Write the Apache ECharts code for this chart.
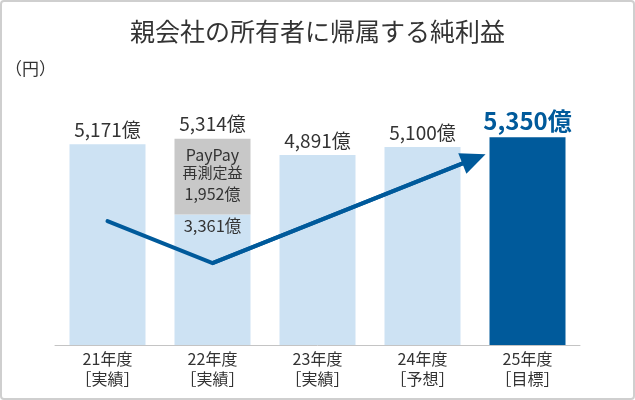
<!DOCTYPE html>
<html>
<head>
<meta charset="utf-8">
<script src="https://cdn.jsdelivr.net/npm/echarts@6/dist/echarts.min.js"></script>
<style>
  html, body { margin: 0; padding: 0; background: #fff; }
  #chart { width: 635px; height: 400px; }
</style>
</head>
<body>
<div id="chart"></div>
<script>
// 年度ラベル
const categories = ['21年度\n［実績］', '22年度\n［実績］', '23年度\n［実績］', '24年度\n［予想］', '25年度\n［目標］']
// 純利益（億円）: PayPay再測定益を除いた部分
const baseValues = [5171, 3361, 4891, 5100, 5350]
// PayPay再測定益（22年度のみ）
const paypayValues = [null, 1952, null, null, null]
// 合計ラベル用
const totalValues = [5171, 5314, 4891, 5100, 5350]
// トレンド矢印（x はカテゴリ位置）
const trendX = [0, 1, 3.49]
const trendY = [3190, 2110, 4795]

const fontFamily = '"Noto Sans CJK JP", "Noto Sans", sans-serif'
const textColor = '#333'
const lightBlue = '#cde2f3'
const darkBlue = '#005a9b'
const grayColor = '#c8c8c8'

const fmt = (v) => v.toLocaleString('en-US') + '億'

const chart = echarts.init(document.getElementById('chart'), null, { renderer: 'canvas' })

const baseData = baseValues.map((v, i) => {
  const item = { value: v }
  if (i === 1) {
    item.label = {
      position: 'insideTop',
      distance: 3,
      fontSize: 16.5
    }
  }
  if (i === 4) {
    item.itemStyle = { color: darkBlue }
    item.label = {
      fontSize: 24,
      fontWeight: 'bold',
      color: darkBlue,
      distance: 4
    }
  }
  return item
})

const helperData = paypayValues.map((v) => (v === null ? null : 0))

chart.setOption({
  backgroundColor: '#fff',
  animation: false,
  textStyle: { fontFamily: fontFamily },
  title: {
    text: '親会社の所有者に帰属する純利益',
    left: 'center',
    top: 14,
    textStyle: {
      fontFamily: fontFamily,
      fontSize: 25,
      fontWeight: 'normal',
      color: textColor
    }
  },
  graphic: [
    {
      type: 'rect',
      shape: { x: 1, y: 1, width: 633, height: 398, r: 3 },
      style: { fill: 'none', stroke: '#cfcfcf', lineWidth: 2 },
      silent: true,
      z: 100
    },
    {
      type: 'text',
      left: 5,
      top: 60,
      style: {
        text: '（円）',
        font: '17px ' + fontFamily,
        fill: textColor
      }
    }
  ],
  grid: {
    left: 55,
    right: 55,
    top: 112,
    bottom: 55
  },
  xAxis: [{
    type: 'category',
    data: categories,
    axisTick: { show: false },
    axisLine: { lineStyle: { color: '#c4c4c4', width: 1 } },
    axisLabel: {
      color: textColor,
      fontSize: 16,
      lineHeight: 20,
      margin: 4,
      fontFamily: fontFamily
    }
  }, {
    type: 'value',
    min: -0.5,
    max: 4.5,
    show: false
  }],
  yAxis: {
    type: 'value',
    min: 0,
    max: 6000,
    show: false
  },
  series: [{
    name: '純利益',
    type: 'bar',
    stack: 'total',
    barWidth: 76,
    data: baseData,
    itemStyle: { color: lightBlue },
    label: {
      show: true,
      position: 'top',
      distance: 5,
      fontSize: 19,
      color: textColor,
      fontFamily: fontFamily,
      formatter: (p) => fmt(p.value)
    }
  }, {
    name: 'PayPay再測定益',
    type: 'bar',
    stack: 'total',
    barWidth: 76,
    data: paypayValues,
    itemStyle: { color: grayColor },
    label: {
      show: true,
      position: 'insideTop',
      distance: 8,
      color: textColor,
      fontFamily: fontFamily,
      formatter: (p) => '{a|PayPay}\n{b|再測定益}\n{c|' + fmt(p.value) + '}',
      rich: {
        a: { fontSize: 16, lineHeight: 17, color: textColor, fontFamily: fontFamily },
        b: { fontSize: 15, lineHeight: 17, color: textColor, fontFamily: fontFamily },
        c: { fontSize: 16, lineHeight: 27, color: textColor, fontFamily: fontFamily }
      }
    }
  }, {
    name: '合計',
    type: 'bar',
    stack: 'total',
    barWidth: 76,
    data: helperData,
    itemStyle: { color: 'transparent' },
    label: {
      show: true,
      position: 'top',
      distance: 5,
      fontSize: 19,
      color: textColor,
      fontFamily: fontFamily,
      formatter: (p) => fmt(totalValues[p.dataIndex])
    }
  }, {
    name: 'トレンド',
    type: 'line',
    xAxisIndex: 1,
    data: trendX.map((x, i) => [x, trendY[i]]),
    symbol: 'none',
    lineStyle: { color: darkBlue, width: 4, cap: 'round', join: 'miter' },
    z: 5,
    markLine: {
      silent: true,
      symbol: ['none', 'triangle'],
      symbolSize: [22, 25],
      label: { show: false },
      lineStyle: { color: darkBlue, width: 4, type: 'solid' },
      data: [[
        { coord: [trendX[1], trendY[1]] },
        { coord: [trendX[2], trendY[2]] }
      ]]
    }
  }]
})
</script>
</body>
</html>
